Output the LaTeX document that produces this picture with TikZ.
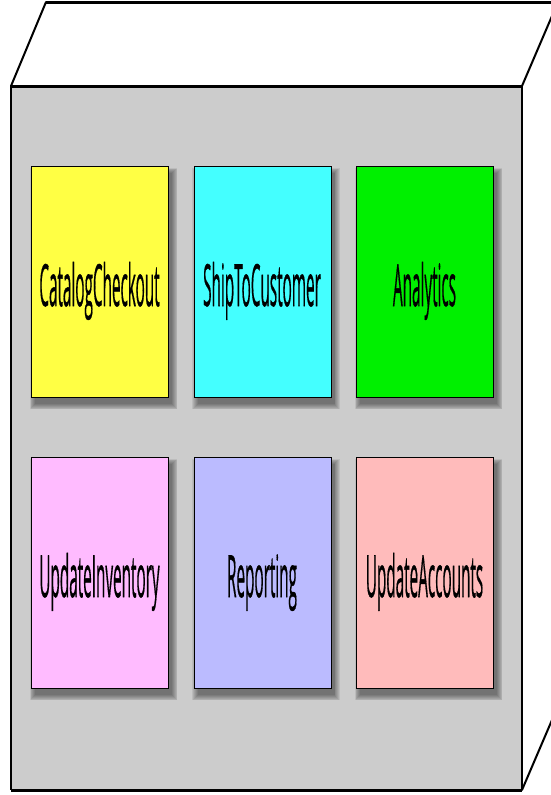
\documentclass[tikz,border=0pt]{standalone}
\usepackage{fontspec}
\setmainfont{Open Sans}
\newfontfamily\labelfont[FakeBold=0.9]{Open Sans}
\definecolor{facegray}{HTML}{CCCCCC}
\definecolor{cYellow}{HTML}{FFFF44}
\definecolor{cCyan}{HTML}{44FFFF}
\definecolor{cGreen}{HTML}{00F000}
\definecolor{cPink}{HTML}{FFBBFF}
\definecolor{cLav}{HTML}{BBBBFF}
\definecolor{cSalmon}{HTML}{FFBBBB}
\tikzset{
  hline/.style={draw=black, line width=3pt},
  vline/.style={draw=black, line width=1.4pt},
  sline/.style={draw=black, line width=2pt, line cap=round},
  compbox/.style={draw=black, line width=1.3pt, anchor=north west, inner sep=0pt,
    minimum width=137pt, minimum height=231pt},
  complabel/.style={anchor=base, inner sep=0pt, text=black},
}
\newcommand\mycomp[5]{%
  % #1 name, #2 x, #3 y (top), #4 colour, #5 label
  \foreach \k in {0,1,2,3,4,5,6}{
    \fill[black, opacity=0.075] ({#2+4-\k*0.9}, {#3+7-\k*0.9}) rectangle ({#2+137+4+\k*0.9}, {#3+231+7+\k*0.9});
  }
  \node[compbox, fill=#4] (#1) at (#2,#3) {};
  \node[complabel] (#1-t) at ({#2+68.5},{#3+140}) {\scalebox{1}[3.8]{\fontsize{15.3}{16}\labelfont #5}};
}
\begin{document}
\begin{tikzpicture}[x=1pt,y=-1pt]
\useasboundingbox (0,0) rectangle (551,795);
\clip (0,0) rectangle (551,795);
% 3D node box
\coordinate (ftl) at (11,86);
\coordinate (ftr) at (522,86);
\coordinate (fbr) at (522,790);
\coordinate (fbl) at (11,790);
\coordinate (btl) at (46,2);
\coordinate (btr) at (558,2);
\coordinate (bbr) at (558,706);
\fill[white] (ftl) -- (btl) -- (btr) -- (ftr) -- cycle;
\fill[white] (ftr) -- (btr) -- (bbr) -- (fbr) -- cycle;
\fill[facegray] (ftl) rectangle (fbr);
\draw[sline] (ftl) -- (btl);
\draw[sline] (ftr) -- (btr);
\draw[sline] (fbr) -- (bbr);
\draw[hline] (btl) -- (btr);
\draw[vline] (ftl) -- (fbl);
\draw[vline] (ftr) -- (fbr);
\draw[hline] (ftl) -- (ftr);
\draw[hline] (fbl) -- (fbr);
% components
\mycomp{cat}{31}{166}{cYellow}{CatalogCheckout}
\mycomp{ship}{193.5}{166}{cCyan}{ShipToCustomer}
\mycomp{ana}{356}{166}{cGreen}{Analytics}
\mycomp{inv}{31}{457}{cPink}{UpdateInventory}
\mycomp{rep}{193.5}{457}{cLav}{Reporting}
\mycomp{acc}{356}{457}{cSalmon}{UpdateAccounts}
\end{tikzpicture}
\end{document}
